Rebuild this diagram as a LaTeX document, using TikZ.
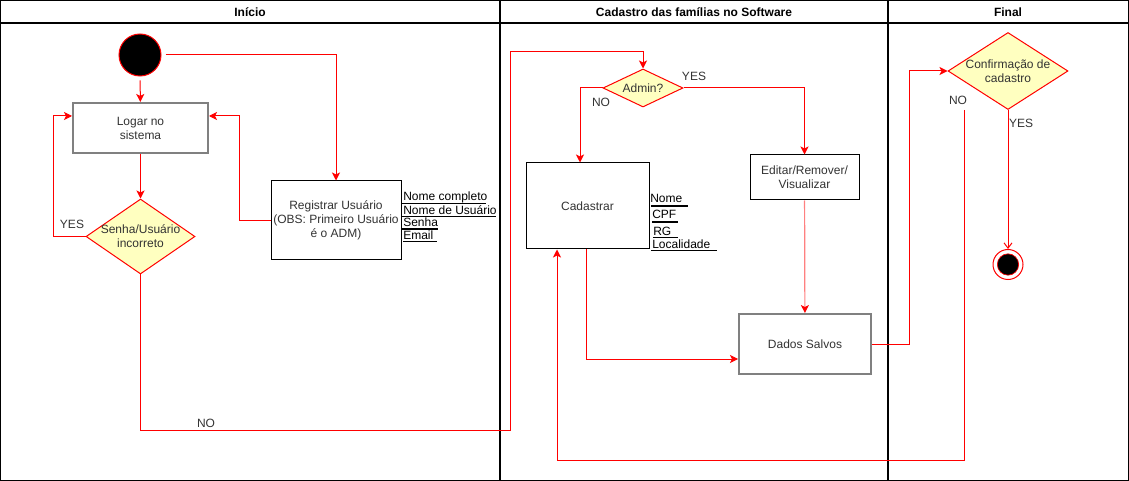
\documentclass[tikz,border=0pt]{standalone}
\usepackage{fontspec}
\setmainfont{Liberation Sans}
\usetikzlibrary{shapes.geometric,arrows.meta,calc}
\definecolor{fillY}{HTML}{FFFFC0}
\definecolor{txtg}{HTML}{333333}
\definecolor{lred}{HTML}{FF8080}
\begin{document}
\begin{tikzpicture}[x=0.75pt,y=-0.75pt,
  every node/.style={font=\fontsize{9}{10.5}\selectfont, text=txtg},
  box/.style={draw, rectangle, inner sep=0pt, align=center, fill=white},
  graybox/.style={box, draw=gray, line width=1.5pt},
  thinbox/.style={box, draw=black, line width=0.75pt},
  dia/.style={diamond, draw=red, fill=fillY, inner sep=0pt, line width=0.75pt},
  lbl/.style={align=center, inner sep=0pt},
  hdr/.style={font=\fontsize{9}{10.5}\selectfont\bfseries, text=black},
  item/.style={anchor=west, inner sep=0pt, text=black},
  uline/.style={draw=black, line width=1.2pt},
  flow/.style={draw=red, line width=0.75pt, -{Stealth[length=6pt,width=6pt,inset=1.5pt]}},
  lightflow/.style={draw=lred, line width=0.9pt, -{Stealth[length=6pt,width=6pt,inset=1.5pt,color=red]}},
  openflow/.style={draw=red, line width=0.75pt, -{Straight Barb[length=4pt,width=6pt]}}]
\useasboundingbox (0,0) rectangle (1129,481);
% lanes
\draw[line width=1pt] (0.5,0.5) rectangle (1128.5,480.5);
\draw[line width=0.9pt] (0.5,23) -- (1128.5,23);
\draw[line width=0.9pt] (500,0.5) -- (500,480.5);
\draw[line width=0.9pt] (888,0.5) -- (888,480.5);
\node[hdr] (h1) at (250,12.5) {Início};
\node[hdr] (h2) at (694,12.5) {Cadastro das famílias no Software};
\node[hdr] (h3) at (1008,12.5) {Final};

% lane 1
\node[circle, draw=red, fill=black, minimum size=31.5pt, inner sep=0pt, line width=0.75pt] (start) at (140,55) {};
\node[graybox, minimum width=101.25pt, minimum height=37.5pt] (logar) at (140.5,128) {Logar no\\sistema};
\node[dia, minimum width=81.75pt, minimum height=56.25pt] (senha) at (140.5,236.5) {};
\node[lbl] at (senha) {Senha/Usuário\\incorreto};
\node[thinbox, minimum width=97.5pt, minimum height=59.25pt] (reg) at (336,220.5) {Registrar Usuário\\(OBS: Primeiro Usuário\\é o ADM)};
\node[item] (n1) at (403,197) {Nome completo};
\node[item] (n2) at (403,210) {Nome de Usuário};
\node[item] (n3) at (403,222.5) {Senha};
\node[item] (n4) at (403,235) {Email};
\draw[uline] (402,203.5) -- (486,203.5);
\draw[uline] (402,216.5) -- (496,216.5);
\draw[uline] (402,229) -- (438,229);
\draw[uline] (403,241.5) -- (437,241.5);

% lane 2
\node[dia, minimum width=60pt, minimum height=28.5pt] (admin) at (643,88) {};
\node[lbl] at (admin) {Admin?};
\node[thinbox, minimum width=92.25pt, minimum height=64.5pt] (cad) at (587.5,206) {Cadastrar};
\node[item] (c1) at (650,198) {Nome};
\node[item] (c2) at (652,214) {CPF};
\node[item] (c3) at (653,231) {RG};
\node[item] (c4) at (652,244) {Localidade};
\draw[uline] (651,206) -- (688,206);
\draw[uline] (652,222) -- (678,222);
\draw[uline] (653,237.5) -- (678,237.5);
\draw[uline] (651,250.5) -- (717,250.5);
\node[thinbox, minimum width=81.75pt, minimum height=33.75pt] (edit) at (804.5,177.5) {Editar/Remover/\\Visualizar};
\node[graybox, minimum width=99pt, minimum height=45pt] (dados) at (805,344) {Dados Salvos};

% lane 3
\node[dia, minimum width=90pt, minimum height=57.75pt] (conf) at (1008,71) {};
\node[lbl] at (conf) {Confirmação de\\cadastro};
\node[circle, draw=red, fill=white, minimum size=22.5pt, inner sep=0pt, line width=0.75pt] (end) at (1008,264.5) {};
\node[circle, draw=red, fill=black, minimum size=16pt, inner sep=0pt, line width=0.5pt] (endin) at (end) {};

% coordinates
\coordinate (yesL) at (53,116);
\coordinate (regL) at (239,116);
\coordinate (noA) at (510,430);
\coordinate (noB) at (510,52);
\coordinate (saveR) at (909,71);
\coordinate (cnoS) at (964,110);
\coordinate (cnoB) at (557,460);

% connectors
\draw[flow, shorten <=3pt] (start) -- (logar);
\draw[flow, shorten <=3pt] (start.east) -| (reg.north);
\draw[flow] (logar) -- (senha);
\draw[flow] (senha.west) -| (yesL) -- (logar.west |- yesL);
\draw[flow] (reg.west) -| (regL) -- (logar.east |- regL);
\draw[flow] (senha.south) |- (noA) -- (noB) -| (admin.north);
\draw[flow] (admin.west) -| ($(cad.north)+(-7.5,0)$);
\draw[flow] (admin.east) -| (edit.north);
\draw[lightflow] (edit) -- (dados);
\draw[flow] ($(cad.south)+(-1,0)$) |- ($(dados.west)+(0,15)$);
\draw[flow] (dados.east) -| (saveR) -- (conf.west);
\draw[openflow] (conf.south) -- (end.north);
\draw[flow] (cnoS) |- (cnoB) -- (cad.south -| cnoB);

% labels
\node[lbl] (lyes1) at (72,224) {YES};
\node[lbl] (lno1) at (206,423) {NO};
\node[lbl] (lno2) at (601,102) {NO};
\node[lbl] (lyes2) at (694,76) {YES};
\node[lbl] (lyes3) at (1021,123) {YES};
\node[lbl] (lno3) at (958,100) {NO};
\end{tikzpicture}
\end{document}
